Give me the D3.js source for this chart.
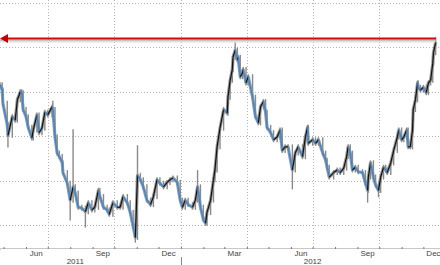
<!DOCTYPE html>
<html>
<head>
<meta charset="utf-8">
<script src="https://cdn.jsdelivr.net/npm/d3@7"></script>
<style>
body { margin: 0; background: #fff; }
text { font-family: "Liberation Sans", Arial, sans-serif; }
</style>
</head>
<body>
<script>
// closes, one per date
var dates = [
	'2011-04-26','2011-04-29','2011-04-30','2011-05-06','2011-05-07','2011-05-13','2011-05-17','2011-05-20','2011-05-24','2011-05-26','2011-05-28',
	'2011-06-01','2011-06-04','2011-06-09','2011-06-11','2011-06-16','2011-06-19','2011-06-23','2011-06-27',
	'2011-07-01','2011-07-07','2011-07-08','2011-07-11','2011-07-14','2011-07-17','2011-07-21','2011-07-22','2011-07-28',
	'2011-08-01','2011-08-05','2011-08-08','2011-08-12','2011-08-17','2011-08-22','2011-08-26','2011-08-31',
	'2011-09-04','2011-09-09','2011-09-11','2011-09-16','2011-09-21','2011-09-24','2011-09-29',
	'2011-10-05','2011-10-09','2011-10-13','2011-10-19','2011-10-23','2011-10-27','2011-10-30',
	'2011-11-02','2011-11-06','2011-11-10','2011-11-15','2011-11-20','2011-11-24','2011-11-29',
	'2011-12-03','2011-12-08','2011-12-13','2011-12-17','2011-12-21','2011-12-27','2011-12-31',
	'2012-01-03','2012-01-07','2012-01-11','2012-01-17','2012-01-21','2012-01-24','2012-01-28',
	'2012-02-01','2012-02-04','2012-02-06','2012-02-11','2012-02-15','2012-02-17','2012-02-20','2012-02-24','2012-02-29',
	'2012-03-05','2012-03-06','2012-03-09','2012-03-12','2012-03-13','2012-03-16','2012-03-19','2012-03-20','2012-03-23','2012-03-26','2012-03-27','2012-03-31',
	'2012-04-03','2012-04-09','2012-04-13','2012-04-17','2012-04-20','2012-04-24','2012-04-27','2012-04-29',
	'2012-05-04','2012-05-08','2012-05-13','2012-05-17','2012-05-20','2012-05-24','2012-05-28',
	'2012-06-03','2012-06-07','2012-06-11','2012-06-17','2012-06-21','2012-06-24','2012-06-25',
	'2012-07-01','2012-07-05','2012-07-09','2012-07-15','2012-07-19','2012-07-21','2012-07-24','2012-07-30',
	'2012-08-04','2012-08-08','2012-08-13','2012-08-17','2012-08-19','2012-08-22','2012-08-25','2012-08-29',
	'2012-09-02','2012-09-08','2012-09-12','2012-09-15','2012-09-16','2012-09-19','2012-09-23','2012-09-26','2012-09-30',
	'2012-10-03','2012-10-07','2012-10-10','2012-10-12','2012-10-17','2012-10-21','2012-10-26','2012-10-28',
	'2012-11-01','2012-11-04','2012-11-08','2012-11-10','2012-11-13','2012-11-16','2012-11-17','2012-11-20','2012-11-23','2012-11-24','2012-11-27',
	'2012-12-01','2012-12-05','2012-12-08','2012-12-11','2012-12-14','2012-12-15','2012-12-18'
];
var closes = [
	90.8, 90.2, 88.7, 86.3, 85.1, 87.2, 86.8, 89.1, 90.0, 89.9, 88.0,
	87.2, 86.0, 84.8, 85.7, 87.4, 85.4, 85.9, 87.7,
	87.4, 88.3, 88.0, 84.9, 83.1, 82.7, 82.0, 80.9, 79.7,
	77.8, 79.3, 78.6, 77.0, 76.9, 76.5, 77.5, 76.7,
	77.0, 78.9, 78.2, 77.0, 76.7, 76.2, 77.5,
	77.0, 77.0, 78.2, 77.5, 76.4, 74.8, 73.6,
	80.6, 80.1, 79.3, 77.8, 77.3, 78.2, 80.1,
	79.7, 79.3, 79.8, 80.1, 80.3, 79.8, 77.8,
	77.0, 77.8, 77.3, 77.0, 77.8, 79.3, 77.0,
	75.6, 75.2, 76.4, 77.8, 80.1, 81.2, 83.8, 85.9, 88.0,
	87.6, 89.4, 91.3, 92.5, 93.9, 94.7, 93.6, 93.9, 91.7, 92.1, 92.5, 91.0,
	91.7, 89.4, 87.2, 86.5, 88.3, 88.9, 87.7, 86.0,
	85.4, 84.6, 84.9, 85.7, 83.4, 83.8, 83.8,
	81.2, 83.1, 83.8, 82.7, 84.9, 86.0, 84.2,
	84.6, 84.2, 84.6, 83.1, 82.3, 81.5, 80.4, 80.9,
	81.2, 80.9, 81.4, 82.7, 83.8, 83.1, 81.2, 81.5,
	81.0, 80.9, 79.7, 78.9, 80.4, 82.0, 80.4, 79.5, 78.9,
	80.4, 81.5, 81.2, 80.9, 82.0, 83.4, 84.9, 85.7,
	84.6, 84.9, 85.7, 83.8, 83.8, 85.7, 88.0, 89.1, 91.0, 90.5, 90.2,
	90.5, 89.9, 91.0, 91.3, 93.2, 94.4, 95.6
];
// the long wicks that stand out of the band
var spikes = [
	['2011-05-07', 84.0], ['2011-07-08', 88.7], ['2011-08-01', 75.8], ['2011-08-05', 85.5],
	['2011-08-22', 75.0], ['2011-10-30', 73.3], ['2011-11-02', 83.7], ['2012-01-24', 80.9],
	['2012-03-16', 95.3], ['2012-06-03', 79.3], ['2012-09-15', 77.8], ['2012-09-30', 78.4],
	['2012-12-18', 95.9]
];
// red resistance level
var resistance = 96.0;

var yTicks = [75, 80, 85, 90, 95, 100];
var gridDates = ['2011-07-01','2011-10-01','2012-01-01','2012-04-01','2012-07-01','2012-10-01'];
var monthLabels = [
	['2011-06-15','Jun'], ['2011-09-15','Sep'], ['2011-12-15','Dec'], ['2012-03-15','Mar'],
	['2012-06-15','Jun'], ['2012-09-15','Sep'], ['2012-12-15','Dec']
];
var yearLabels = [['2011-08-08','2011'], ['2012-07-01','2012']];
var yearBreaks = ['2012-01-01'];

var W = 440, H = 265, axisY = 248;
var parse = d3.timeParse('%Y-%m-%d');

var x = d3.scaleTime()
	.domain([parse('2011-04-26'), parse('2012-12-24')])
	.range([0, W]);
var y = d3.scaleLinear()
	.domain([75, 100])
	.range([225, 3]);

var svg = d3.select('body').append('svg')
	.attr('width', W)
	.attr('height', H);

// dotted grid
svg.selectAll('.hgrid').data(yTicks).enter().append('line')
	.attr('x1', 0).attr('x2', W)
	.attr('y1', function(d) { return Math.round(y(d)) + 0.5; })
	.attr('y2', function(d) { return Math.round(y(d)) + 0.5; })
	.attr('stroke', '#b4b4b4')
	.attr('stroke-dasharray', '1,2');
svg.selectAll('.vgrid').data(gridDates).enter().append('line')
	.attr('x1', function(d) { return Math.round(x(parse(d))) + 0.5; })
	.attr('x2', function(d) { return Math.round(x(parse(d))) + 0.5; })
	.attr('y1', 0).attr('y2', axisY)
	.attr('stroke', '#b4b4b4')
	.attr('stroke-dasharray', '1,2');

// bottom axis, month ticks only
var axis = svg.append('g')
	.attr('transform', 'translate(0,' + axisY + ')')
	.call(d3.axisBottom(x).ticks(d3.timeMonth).tickSize(2).tickFormat(''));
axis.select('.domain').attr('stroke', '#c8c8c8');
axis.selectAll('.tick line').attr('stroke', '#777').attr('transform', 'translate(0,-1)');

svg.selectAll('.ybreak').data(yearBreaks).enter().append('line')
	.attr('x1', function(d) { return Math.round(x(parse(d))) + 0.5; })
	.attr('x2', function(d) { return Math.round(x(parse(d))) + 0.5; })
	.attr('y1', axisY + 9).attr('y2', H)
	.attr('stroke', '#888');

svg.selectAll('.mlab').data(monthLabels).enter().append('text')
	.text(function(d) { return d[1]; })
	.attr('x', function(d) { return x(parse(d[0])); })
	.attr('y', axisY + 8)
	.attr('text-anchor', 'middle')
	.attr('font-size', 8)
	.attr('fill', '#444');
svg.selectAll('.ylab').data(yearLabels).enter().append('text')
	.text(function(d) { return d[1]; })
	.attr('x', function(d) { return x(parse(d[0])); })
	.attr('y', H - 1)
	.attr('text-anchor', 'middle')
	.attr('font-size', 8)
	.attr('fill', '#444');

// build the bars: open is the previous close
var spikeAt = {};
spikes.forEach(function(s) { spikeAt[s[0]] = s[1]; });
var bars = dates.map(function(d, i) {
	var o = i ? closes[i - 1] : closes[0], c = closes[i];
	var hi = Math.max(o, c), lo = Math.min(o, c);
	if (d in spikeAt) {
		hi = Math.max(hi, spikeAt[d]);
		lo = Math.min(lo, spikeAt[d]);
	}
	return { t0: parse(i ? dates[i - 1] : d), t: parse(d), o: o, c: c, hi: hi, lo: lo };
});

var g = svg.append('g');
// grey halo: the close line drawn wide, plus the high-low range of each bar
var closeLine = d3.line()
	.x(function(d) { return x(d.t); })
	.y(function(d) { return y(d.c); });
g.append('path')
	.datum(bars)
	.attr('d', closeLine)
	.attr('fill', 'none')
	.attr('stroke', '#9a9a9a')
	.attr('stroke-width', 3.2)
	.attr('stroke-linejoin', 'round');
g.selectAll('.wick').data(bars).enter().append('line')
	.attr('x1', function(d) { return x(d.t); })
	.attr('x2', function(d) { return x(d.t); })
	.attr('y1', function(d) { return y(d.hi) - 2.5; })
	.attr('y2', function(d) { return y(d.lo) + 2.5; })
	.attr('stroke', '#8a8a8a')
	.attr('stroke-width', 1.4);
// moves: blue when falling, black when rising
g.selectAll('.move').data(bars).enter().append('line')
	.attr('x1', function(d) { return x(d.t0); })
	.attr('x2', function(d) { return x(d.t); })
	.attr('y1', function(d) { return y(d.o); })
	.attr('y2', function(d) { return y(d.c); })
	.attr('stroke', function(d) { return d.c < d.o ? '#2a8ae8' : '#111'; })
	.attr('stroke-width', 1.2);

// resistance line with its shadow and arrow head
var ry = y(resistance), rx1 = x(parse(dates[dates.length - 1]));
var grad = svg.append('defs').append('linearGradient')
	.attr('id', 'shade').attr('x1', 0).attr('x2', 0).attr('y1', 0).attr('y2', 1);
grad.append('stop').attr('offset', '0%').attr('stop-color', '#a8a8a8');
grad.append('stop').attr('offset', '100%').attr('stop-color', '#fff').attr('stop-opacity', 0);
svg.append('rect')
	.attr('x', 0).attr('width', rx1)
	.attr('y', ry + 1).attr('height', 5)
	.attr('fill', 'url(#shade)');
svg.append('line')
	.attr('x1', 4).attr('x2', rx1)
	.attr('y1', ry).attr('y2', ry)
	.attr('stroke', '#d10a0a')
	.attr('stroke-width', 2);
svg.append('path')
	.attr('d', d3.line()([[0, ry], [8, ry - 4.5], [8, ry + 4.5]]) + 'Z')
	.attr('fill', '#c40000');
</script>
</body>
</html>
